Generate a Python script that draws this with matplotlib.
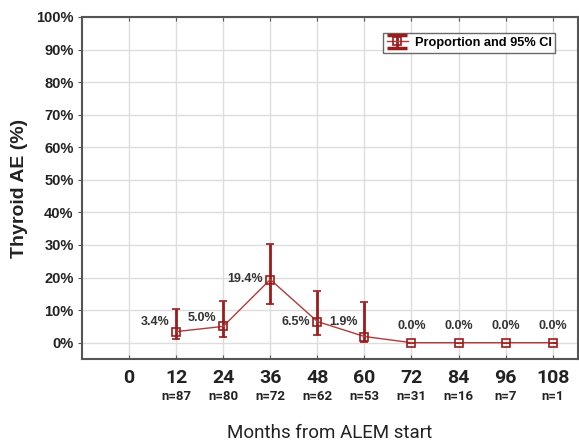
import matplotlib.pyplot as plt
import matplotlib.transforms as mtransforms
from matplotlib.legend_handler import HandlerErrorbar
from matplotlib.lines import Line2D

# data
months = [12, 24, 36, 48, 60, 72, 84, 96, 108]
proportion = [3.4, 5.0, 19.4, 6.5, 1.9, 0.0, 0.0, 0.0, 0.0]
ci_low = [1.2, 1.8, 12.0, 2.5, 0.3, 0.0, 0.0, 0.0, 0.0]
ci_high = [10.4, 12.9, 30.4, 16.0, 12.6, 0.0, 0.0, 0.0, 0.0]
n_at_risk = [87, 80, 72, 62, 53, 31, 16, 7, 1]
x_ticks = [0, 12, 24, 36, 48, 60, 72, 84, 96, 108]
y_ticks = [0, 10, 20, 30, 40, 50, 60, 70, 80, 90, 100]

# vertical offset of each value label (in % units), style only
label_dy = [2.8, 2.5, 0.2, 0.0, 4.3, 5.0, 5.0, 5.0, 5.0]

DARK_RED = "#9a1c1c"
LINE_RED = "#b23a3a"


class WideCapHandler(HandlerErrorbar):
    # legend symbol in the reference has wide caps
    def create_artists(self, *args, **kwargs):
        arts = super().create_artists(*args, **kwargs)
        for a in arts:
            if isinstance(a, Line2D) and a.get_marker() == "_":
                a.set_markersize(15)
                a.set_markeredgewidth(2.5)
        return arts


fig = plt.figure(figsize=(5.79, 4.41), dpi=100)
ax = fig.add_axes([0.1416, 0.186, 0.857, 0.7755])

err_lo = [p - l for p, l in zip(proportion, ci_low)]
err_hi = [h - p for p, h in zip(proportion, ci_high)]

eb = ax.errorbar(months, proportion, yerr=[err_lo, err_hi], fmt="-s", color=LINE_RED,
                 linewidth=1.0, markerfacecolor="none", markeredgecolor=DARK_RED,
                 markersize=6, markeredgewidth=1.2, ecolor=DARK_RED, elinewidth=2.0,
                 capsize=3, capthick=2.0, zorder=4, label="Proportion and 95% CI")

# value labels
for m, p, dy in zip(months, proportion, label_dy):
    if m <= 60:
        ax.text(m - 1.8, p + dy, f"{p:.1f}%", ha="right", va="center",
                fontsize=9, fontweight="bold", color="#333333",
                family="Liberation Sans")
    else:
        ax.text(m, p + dy, f"{p:.1f}%", ha="center", va="center",
                fontsize=9, fontweight="bold", color="#333333",
                family="Liberation Sans")

ax.set_xlim(-12, 114.5)
ax.set_ylim(-5, 100)
ax.set_xticks(x_ticks)
ax.set_yticks(y_ticks)
ax.set_yticklabels([f"{v}%" for v in y_ticks], fontsize=10.5, fontweight="bold",
                   family="Liberation Sans", color="#222222")
ax.set_xticklabels([str(v) for v in x_ticks], fontsize=14, fontweight="bold",
                   family="Roboto", color="#222222")
ax.tick_params(axis="x", direction="in", length=3, pad=7, top=True, color="#555555")
ax.tick_params(axis="y", direction="out", length=3, pad=3, right=True, color="#555555")

ax.grid(True, color="#dddddd", linewidth=1.0)
ax.set_axisbelow(True)
for s in ax.spines.values():
    s.set_color("#555555")
    s.set_linewidth(1.5)

# n labels under the ticks
trans = mtransforms.blended_transform_factory(ax.transData, ax.transAxes)
for m, n in zip(months, n_at_risk):
    ax.text(m, -0.11, f"n={n}", transform=trans, ha="center", va="center",
            fontsize=9.5, fontweight="bold", family="Roboto", color="#222222")

ax.set_xlabel("Months from ALEM start", fontsize=13.5, family="Roboto",
              color="#222222", labelpad=27)
ax.set_ylabel("Thyroid AE (%)", fontsize=14, fontweight="bold",
              family="Liberation Sans", color="#222222", labelpad=6)

leg = ax.legend(handles=[eb], loc="upper right", bbox_to_anchor=(0.954, 0.953),
                borderaxespad=0, frameon=True, fancybox=False, handlelength=1.7,
                handletextpad=0.5, handler_map={type(eb): WideCapHandler()},
                prop={"family": "Liberation Sans", "weight": "bold", "size": 9.2},
                borderpad=0.3)
leg.get_frame().set_edgecolor("#444444")
leg.get_frame().set_linewidth(1.0)

fig.savefig("out.png", dpi=100)
